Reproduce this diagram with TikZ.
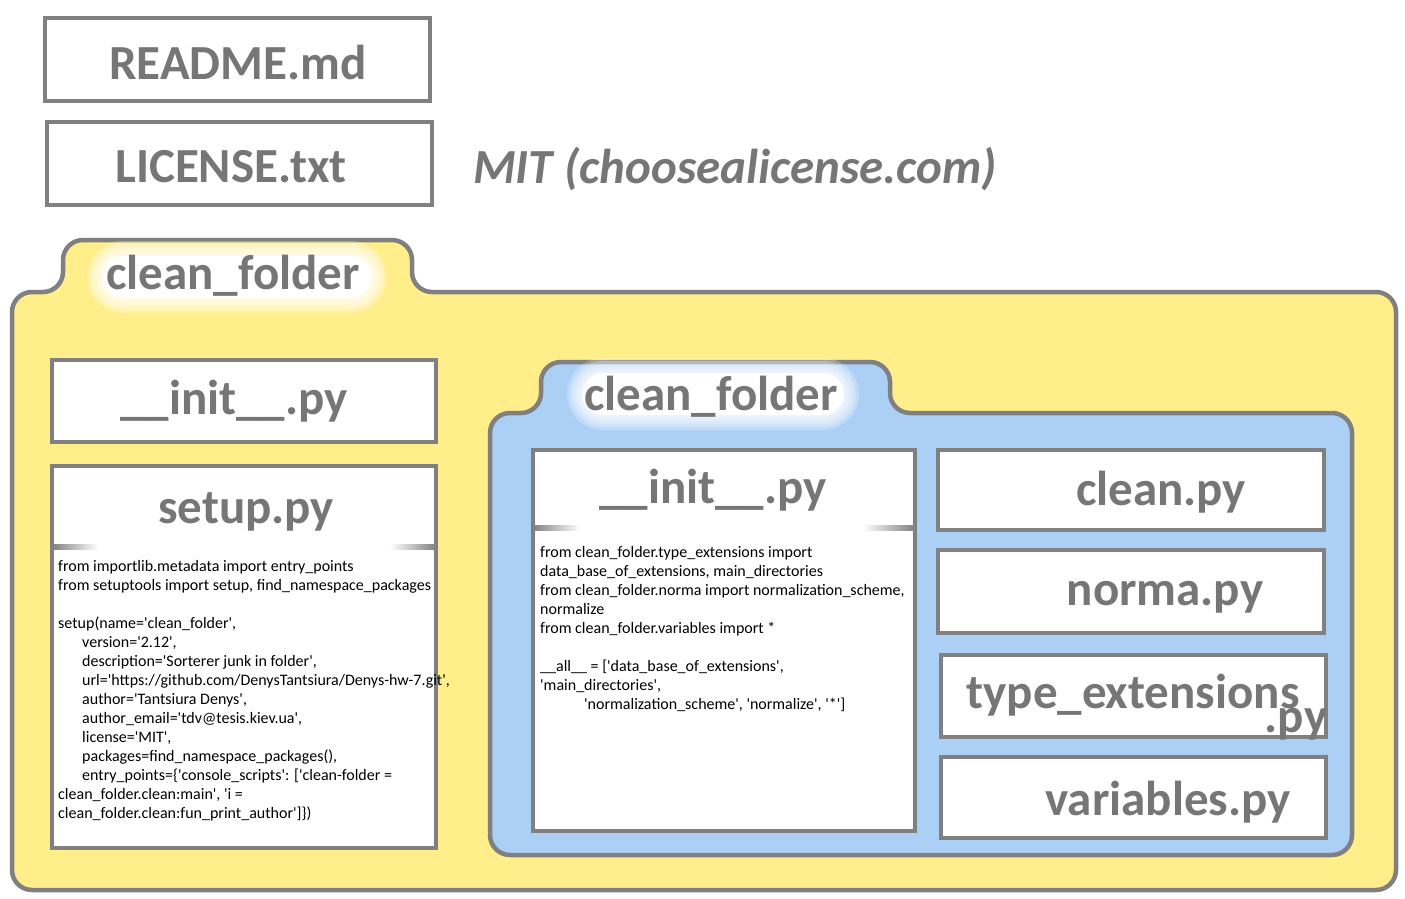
\documentclass[tikz,border=0pt]{standalone}
\usepackage{fontspec}
\setmainfont{Carlito}
\newfontfamily\codefont{Carlito}[Ligatures=TeXOff]
\definecolor{lbl}{RGB}{118,118,118}
\definecolor{edge}{RGB}{128,128,128}
\definecolor{folderY}{RGB}{255,238,138}
\definecolor{folderB}{RGB}{172,208,245}
\tikzset{
  filebox/.style={draw=edge, line width=4.5pt, fill=white, inner sep=0pt},
  biglabel/.style={text=lbl, font=\fontsize{49}{55}\selectfont\bfseries, anchor=base, inner sep=0pt},
  codetext/.style={font=\codefont\fontsize{16}{19}\selectfont, align=left, anchor=north west, inner sep=0pt, text=black},
  folder/.style={draw=edge, line width=4.5pt, rounded corners=20pt},
}
\newcommand{\myglow}[4]{%
  \foreach \k in {5,4,...,1}{%
    \fill[white, opacity=0.25, rounded corners={#4/2+\k*3pt}]
      ({#1-#3/2-\k*3},{#2-#4/2-\k*3}) rectangle ({#1+#3/2+\k*3},{#2+#4/2+\k*3});}
  \fill[white, rounded corners={#4/2}] ({#1-#3/2},{#2-#4/2}) rectangle ({#1+#3/2},{#2+#4/2});}
\begin{document}
\begin{tikzpicture}[x=1pt,y=-1pt]
\useasboundingbox[fill=white] (0,0) rectangle (1405,899);

% top files
\node[filebox, minimum width=385pt, minimum height=83pt] (readme) at (237.5,59.5) {};
\node[biglabel] (readmetxt) at (238,80) {README.md};
\node[filebox, minimum width=385pt, minimum height=83pt] (license) at (239.5,163.5) {};
\node[biglabel] (licensetxt) at (231,182) {LICENSE.txt};
\node[biglabel, font=\fontsize{49}{55}\selectfont\bfseries\itshape] (mit) at (735,183) {MIT (choosealicense.com)};

% yellow folder
\draw[folder, fill=folderY] (12,600) -- (12,292) -- (63,292) -- (63,240) -- (412,240) -- (412,292) -- (1396,292) -- (1396,890) -- (12,890) -- cycle;
\myglow{237}{277}{270}{42}
\node[biglabel] (outername) at (233,289) {clean\_folder};

% left init
\node[filebox, minimum width=384pt, minimum height=82pt] (initA) at (244,401) {};
\node[biglabel] (initAtxt) at (234,414) {\_\_init\_\_.py};

% setup
\node[filebox, minimum width=384pt, minimum height=382pt] (setup) at (244,657) {};
\node[biglabel] (setuptxt) at (246,523) {setup.py};
\shade[left color=edge, right color=white] (52,544.5) rectangle (98,549.5);
\shade[left color=white, right color=edge] (390,544.5) rectangle (436,549.5);
\node[codetext] (setupcode) at (58,560.5) {from importlib.metadata import entry\_points\\
from setuptools import setup, find\_namespace\_packages\\
\mbox{}\\
setup(name='clean\_folder',\\
\hspace*{24pt}version='2.12',\\
\hspace*{24pt}description='Sorterer junk in folder',\\
\hspace*{24pt}url='https://github.com/DenysTantsiura/Denys-hw-7.git',\\
\hspace*{24pt}author='Tantsiura Denys',\\
\hspace*{24pt}author\_email='tdv@tesis.kiev.ua',\\
\hspace*{24pt}license='MIT',\\
\hspace*{24pt}packages=find\_namespace\_packages(),\\
\hspace*{24pt}entry\_points=\{'console\_scripts': ['clean-folder =\\
clean\_folder.clean:main', 'i =\\
clean\_folder.clean:fun\_print\_author']\})};

% blue folder
\draw[folder, fill=folderB] (490,650) -- (490,413) -- (541,413) -- (541,362) -- (890,362) -- (890,413) -- (1352,413) -- (1352,855) -- (490,855) -- cycle;
\myglow{713}{394}{262}{42}
\node[biglabel] (innername) at (711,410) {clean\_folder};

% inner init
\node[filebox, minimum width=382pt, minimum height=381pt] (initB) at (724,640.5) {};
\node[biglabel] (initBtxt) at (713,503) {\_\_init\_\_.py};
\shade[left color=edge, right color=white] (533,525.5) rectangle (580,530.5);
\shade[left color=white, right color=edge] (863,525.5) rectangle (915,530.5);
\node[codetext] (initcode) at (540,546.5) {from clean\_folder.type\_extensions import\\
data\_base\_of\_extensions, main\_directories\\
from clean\_folder.norma import normalization\_scheme,\\
normalize\\
from clean\_folder.variables import *\\
\mbox{}\\
\_\_all\_\_ = ['data\_base\_of\_extensions',\\
'main\_directories',\\
\hspace*{44pt}'normalization\_scheme', 'normalize', '*']};

% right files
\node[filebox, minimum width=386pt, minimum height=80pt] (clean) at (1131,490) {};
\node[biglabel] (cleantxt) at (1161,505) {clean.py};
\node[filebox, minimum width=386pt, minimum height=83pt] (norma) at (1131,591.5) {};
\node[biglabel] (normatxt) at (1165,605) {norma.py};
\node[filebox, minimum width=385pt, minimum height=82pt] (types) at (1133.5,696) {};
\node[biglabel] (typestxt) at (1133,708) {type\_extensions};
\node[biglabel] (typespy) at (1296,732) {.py};
\node[filebox, minimum width=385pt, minimum height=81pt] (vars) at (1133.5,797.5) {};
\node[biglabel] (varstxt) at (1168,815) {variables.py};
\end{tikzpicture}
\end{document}
